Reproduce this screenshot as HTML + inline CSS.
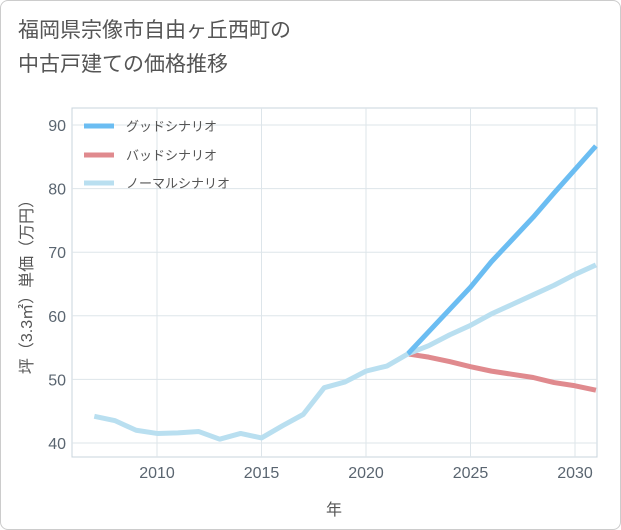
<!DOCTYPE html>
<html><head><meta charset="utf-8"><style>
body{margin:0;background:#fff;font-family:"Liberation Sans","Noto Sans CJK JP",sans-serif;}
#card{position:absolute;left:0;top:0;width:619px;height:528px;border:1px solid #ccc;border-radius:8px;background:#fff;}
#title{position:absolute;left:18px;top:14px;font-size:21px;line-height:34px;color:#555;}
svg{position:absolute;left:0;top:0}
</style></head><body>
<div id="card"></div>
<div id="title">福岡県宗像市自由ヶ丘西町の<br>中古戸建ての価格推移</div>
<svg id="c" width="621" height="530"></svg>
<script>
const years=[2007,2008,2009,2010,2011,2012,2013,2014,2015,2016,2017,2018,2019,2020,2021,2022];
const hist=[44.2,43.5,42,41.5,41.6,41.8,40.6,41.5,40.8,42.7,44.5,48.7,49.6,51.3,52.1,54];
const futYears=[2022,2023,2024,2025,2026,2027,2028,2029,2030,2031];
const good=[54,57.5,61,64.5,68.5,72,75.5,79.3,83,86.7];
const bad=[54,53.5,52.8,52,51.3,50.8,50.3,49.5,49,48.3];
const normal=[54,55.3,57,58.5,60.3,61.8,63.3,64.8,66.5,68];
const xTicks=[2010,2015,2020,2025,2030];
const yTicks=[40,50,60,70,80,90];
const NS='http://www.w3.org/2000/svg';
const svg=document.getElementById('c');
const X=v=>157+(v-2010)*20.9;
const Y=v=>443-(v-40)*6.36;
function el(t,a,p){const e=document.createElementNS(NS,t);for(const k in a)e.setAttribute(k,a[k]);(p||svg).appendChild(e);return e;}
el('rect',{x:72,y:108,width:525,height:349,fill:'none',stroke:'#c8d4dc'});
xTicks.forEach(t=>{const l=el('line',{x1:X(t),x2:X(t),y1:108,y2:457,stroke:'#dde5ea'});


const tx=el('text',{x:X(t),y:478,'text-anchor':'middle','font-size':16,fill:'#5a6570'});tx.textContent=t;

});
yTicks.forEach(t=>{const l=el('line',{x1:72,x2:597,y1:Y(t),y2:Y(t),stroke:'#dde5ea'});


const tx=el('text',{x:66,y:Y(t)+6,'text-anchor':'end','font-size':16,fill:'#5a6570'});tx.textContent=t;

});
function line(xs,ys,c,n){const p=el('polyline',{points:xs.map((x,i)=>X(x)+','+Y(ys[i])).join(' '),fill:'none',stroke:c,'stroke-width':5,'stroke-linejoin':'round'});

}
line(futYears,bad,'#e08a8e','bad-scenario-line');
line(futYears,normal,'#b9dff0','normal-scenario-line');
line(futYears,good,'#6bbdf2','good-scenario-line');
line(years,hist,'#b9dff0','historical-line');
const leg=[['グッドシナリオ','#6bbdf2',126],['バッドシナリオ','#e08a8e',155],['ノーマルシナリオ','#b9dff0',183]];
leg.forEach(([t,c,y])=>{const l=el('line',{x1:84,x2:114,y1:y,y2:y,stroke:c,'stroke-width':5});


const tx=el('text',{x:126,y:y+5,'font-size':13,fill:'#555'});tx.textContent=t;

});
const xt=el('text',{x:334,y:515,'text-anchor':'middle','font-size':16,fill:'#555'});xt.textContent='年';


const yt=el('text',{x:0,y:0,'text-anchor':'middle','font-size':16,fill:'#555',transform:'translate(32,283) rotate(-90)'});yt.textContent='坪（3.3㎡）単価（万円）';


</script>
</body></html>
